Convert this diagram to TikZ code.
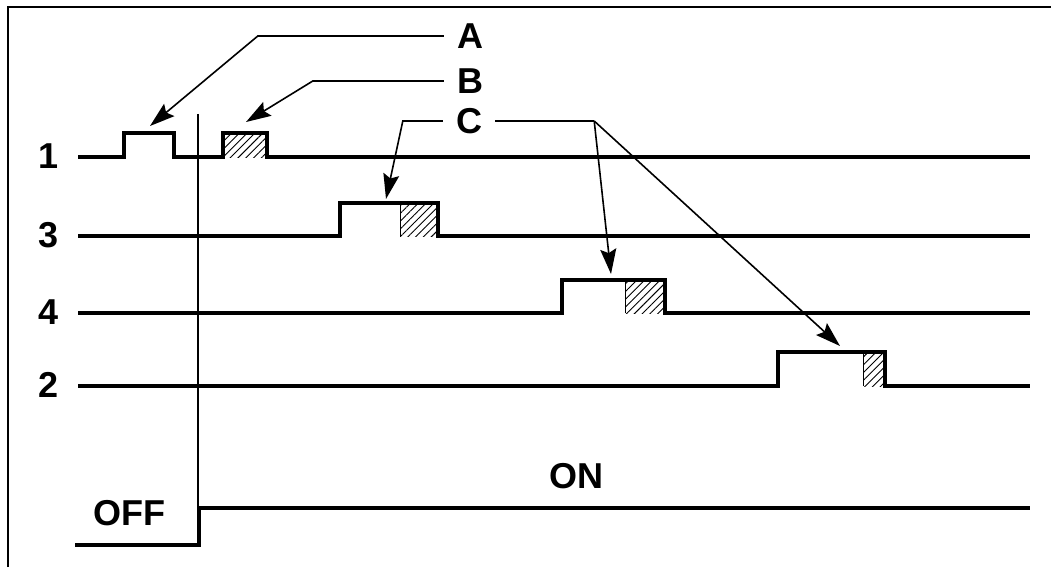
\documentclass[tikz,border=0pt]{standalone}
\usepackage{fontspec}
\setmainfont{Liberation Sans}
\usetikzlibrary{arrows.meta,patterns.meta}
\begin{document}
\begin{tikzpicture}[x=1pt,y=-1pt,
  sig/.style={line width=4.5pt, line join=miter},
  frameline/.style={line width=1.5pt},
  lead/.style={line width=1.6pt, -{Stealth[length=25pt,width=16pt,inset=4pt]}},
  lbl/.style={font=\fontsize{36}{40}\selectfont\bfseries, inner sep=0pt},
  key/.style={lbl, inner xsep=13pt},
  hatch/.style={pattern={Lines[angle=45,distance=5.5pt,line width=0.9pt]}},
  hatchedge/.style={line width=0.7pt}
]
\useasboundingbox (0,0) rectangle (1051,567);
% frame
\draw[frameline] (8,567) -- (8,7) -- (1051,7);
% hatched parts
\fill[hatch] (223,133) rectangle (267,157);
\fill[hatch] (400,203) rectangle (438,236);
\draw[hatchedge] (400,203) -- (400,236);
\fill[hatch] (625,280) rectangle (665,313);
\draw[hatchedge] (625,280) -- (625,313);
\fill[hatch] (863,352) rectangle (885,386);
\draw[hatchedge] (863,352) -- (863,386);
% marker line
\draw[frameline] (198,114) -- (198,508);
% signals
\draw[sig] (78,157) -- (124,157) -- (124,133) -- (174,133) -- (174,157) -- (223,157) -- (223,133) -- (267,133) -- (267,157) -- (1030,157);
\draw[sig] (78,236) -- (340,236) -- (340,203) -- (438,203) -- (438,236) -- (1030,236);
\draw[sig] (78,313) -- (562,313) -- (562,280) -- (665,280) -- (665,313) -- (1030,313);
\draw[sig] (78,386) -- (778,386) -- (778,352) -- (885,352) -- (885,386) -- (1030,386);
\draw[sig] (75,545) -- (199,545) -- (199,508) -- (1030,508);
% channel labels
\node[lbl, anchor=east] (n1) at (59,156) {1};
\node[lbl, anchor=east] (n3) at (59,235) {3};
\node[lbl, anchor=east] (n4) at (59,312) {4};
\node[lbl, anchor=east] (n2) at (59,385) {2};
\node[lbl] (off) at (129,513) {OFF};
\node[lbl] (on) at (576,476) {ON};
% keys
\node[key] (A) at (470,36) {A};
\node[key] (B) at (470,81) {B};
\node[key] (C) at (469,121) {C};
% arrow targets
\coordinate (tA) at (150,126);
\coordinate (tB) at (246,122);
\coordinate (tC1) at (386,199);
\coordinate (tC2) at (611,274);
\coordinate (tC3) at (840,346);
% leaders
\draw[lead] (A.west) -- ++(-186,0) -- (tA);
\draw[lead] (B.west) -- ++(-131,0) -- (tB);
\draw[lead] (C.west) -- ++(-40,0) -- (tC1);
\draw[frameline] (C.east) -- ++(99,0) coordinate (cj);
\draw[lead] (cj) -- (tC2);
\draw[lead] (cj) -- (tC3);
\end{tikzpicture}
\end{document}
